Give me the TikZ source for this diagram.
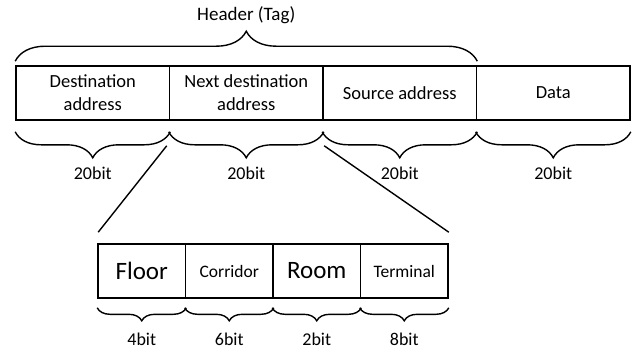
\documentclass[tikz,border=0pt]{standalone}
\usepackage{fontspec}
\setmainfont{Carlito}
\usetikzlibrary{decorations.pathreplacing}
\tikzset{
  cell/.style={draw=black, line width=1.6pt, rectangle, inner sep=0pt,
    minimum height=54pt, align=center, font=\fontsize{18.5}{23}\selectfont},
  smallcell/.style={cell, minimum width=87.5pt},
  bigcell/.style={cell, minimum width=153.5pt},
  lbl/.style={font=\fontsize{18}{20}\selectfont, inner sep=0pt},
  brc/.style={decorate, line width=1.4pt, decoration={brace, amplitude=#1}},
  link/.style={line width=1.4pt}
}
\begin{document}
\begin{tikzpicture}[x=1pt, y=-1pt]
\useasboundingbox (0,0) rectangle (635,349);
% top row
\node[bigcell] (dst) at (92.75,93) {Destination\\address};
\node[bigcell] (nxt) at (246.25,93) {Next destination\\address};
\node[bigcell] (src) at (399.75,93) {Source address};
\node[bigcell] (dat) at (553.25,93) {Data};
% lower row
\node[smallcell, font=\fontsize{25}{28}\selectfont] (flr) at (141.75,271) {Floor};
\node[smallcell, font=\fontsize{17.5}{20}\selectfont] (cor) at (229.25,271) {Corridor};
\node[smallcell, font=\fontsize{25}{28}\selectfont] (rom) at (316.75,271) {Room};
\node[smallcell, font=\fontsize{17.5}{20}\selectfont] (ter) at (404.25,271) {Terminal};
% header brace
\draw[brc=30pt] ([yshift=4pt]dst.north west) -- ([yshift=4pt]src.north east)
  node[midway, above=37pt, lbl, font=\fontsize{19}{22}\selectfont] (hdr) {Header (Tag)};
% bottom braces upper row
\foreach \n in {dst,nxt,src,dat}{
  \draw[brc=26pt] ([yshift=-11pt]\n.south east) -- ([yshift=-11pt]\n.south west)
    node[midway, below=34pt, lbl] (b\n) {20bit};
}
% bottom braces lower row
\draw[brc=13pt] ([yshift=-9pt]flr.south east) -- ([yshift=-9pt]flr.south west)
  node[midway, below=24pt, lbl] (bflr) {4bit};
\draw[brc=13pt] ([yshift=-9pt]cor.south east) -- ([yshift=-9pt]cor.south west)
  node[midway, below=24pt, lbl] (bcor) {6bit};
\draw[brc=13pt] ([yshift=-9pt]rom.south east) -- ([yshift=-9pt]rom.south west)
  node[midway, below=24pt, lbl] (brom) {2bit};
\draw[brc=13pt] ([yshift=-9pt]ter.south east) -- ([yshift=-9pt]ter.south west)
  node[midway, below=24pt, lbl] (bter) {8bit};
% zoom lines
\coordinate (l1) at ([xshift=-2pt, yshift=-25pt]nxt.south west);
\coordinate (l2) at ([xshift=1pt, yshift=11pt]flr.north west);
\coordinate (r1) at ([xshift=2pt, yshift=-25pt]src.south west);
\coordinate (r2) at ([xshift=0pt, yshift=11pt]ter.north east);
\draw[link] (l1) -- (l2);
\draw[link] (r1) -- (r2);
\end{tikzpicture}
\end{document}
